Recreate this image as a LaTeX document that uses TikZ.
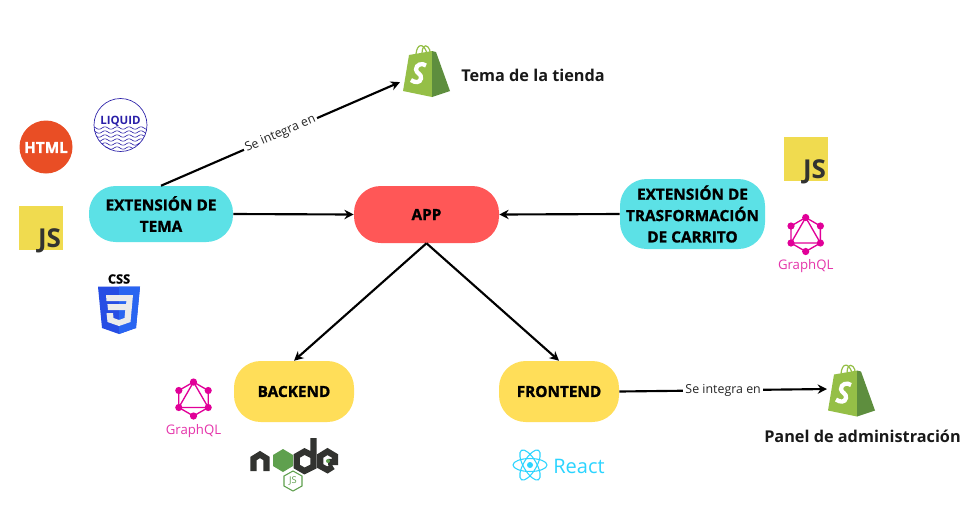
\documentclass[tikz,border=0pt]{standalone}
\usepackage{fontspec}
\setmainfont{Open Sans}
\newfontfamily\heavy[BoldFeatures={FakeBold=1.2}]{Open Sans}
\usetikzlibrary{arrows.meta,calc}
\definecolor{cyanbox}{HTML}{5CE1E6}
\definecolor{redbox}{HTML}{FF5757}
\definecolor{yellowbox}{HTML}{FFDE59}
\definecolor{shopl}{HTML}{95BF47}
\definecolor{shopd}{HTML}{5E8E3E}
\definecolor{gql}{HTML}{E10098}
\definecolor{gqltext}{HTML}{E535AB}
\definecolor{jsy}{HTML}{F0DB4F}
\definecolor{jsd}{HTML}{323330}
\definecolor{htmlc}{HTML}{E94E25}
\definecolor{liq}{HTML}{2A1FA8}
\definecolor{nodeg}{HTML}{5FA04E}
\definecolor{reactc}{HTML}{2BD4FF}
\definecolor{cssa}{HTML}{264DE4}
\definecolor{cssb}{HTML}{2965F1}
\tikzset{
  x=0.75pt,y=-0.75pt,
  boxnode/.style={rounded corners=20pt,align=center,inner sep=0pt,font=\heavy\bfseries\fontsize{11.5pt}{16pt}\selectfont,text=black},
  cyannode/.style={boxnode,fill=cyanbox},
  rednode/.style={boxnode,fill=redbox},
  yellownode/.style={boxnode,fill=yellowbox},
  conn/.style={line width=1.6pt,draw=black,-{Stealth[length=7pt,width=7pt]}},
  edgelabel/.style={fill=white,inner sep=1.5pt,font=\fontsize{9.3pt}{11pt}\selectfont,text=black!85},
  caption/.style={font=\bfseries\fontsize{12.2pt}{14pt}\selectfont,text=black!90,inner sep=0pt},
  iconbox/.style={inner sep=0pt,outer sep=0pt},
  shopify/.pic={
    \fill[shopl] (-23,21)--(-17,-15)--(6,-19)--(6,27)--cycle;
    \fill[shopd] (6,-19)--(10,-18)--(24,21)--(6,27)--cycle;
    \draw[shopl,line width=0.9pt] (-10,-16) .. controls (-9,-26) and (-3,-28) .. (1,-17);
    \draw[shopl,line width=0.9pt] (-4,-17) .. controls (-4,-23) and (-1,-26) .. (2,-23) .. controls (4,-21) and (4,-19) .. (4,-17);
    \draw[white,line width=3.2pt] (0,-4.5) .. controls (-4,-7.5) and (-10,-5.5) .. (-10,-0.5) .. controls (-10,3) and (-4,4) .. (-5,8.5) .. controls (-6,13) and (-11,13) .. (-15,10);
  },
  graphql/.pic={
    \draw[gql,line width=1pt] (0,-17)--(14.7,-8.5)--(14.7,8.5)--(0,17)--(-14.7,8.5)--(-14.7,-8.5)--cycle;
    \draw[gql,line width=1pt] (0,-17)--(14.7,8.5)--(-14.7,8.5)--cycle;
    \foreach \a/\b in {0/-17,14.7/-8.5,14.7/8.5,0/17,-14.7/8.5,-14.7/-8.5}{\fill[gql] (\a,\b) circle[radius=3.6];}
    \node[iconbox,text=gqltext,font=\fontsize{9.9pt}{11pt}\selectfont] at (0,32) {GraphQL};
  },
  jsbox/.pic={
    \fill[jsy] (-22,-22) rectangle (22,22);
    \node[iconbox,text=jsd,font=\bfseries\fontsize{19.5pt}{22pt}\selectfont,anchor=base east] at (20,19.5) {JS};
  },
}
\begin{document}
\begin{tikzpicture}
\useasboundingbox (0,0) rectangle (977,512);
\fill[white] (0,0) rectangle (977,512);

% main nodes
\node[cyannode,minimum width=108pt,minimum height=42pt] (theme) at (161,214) {EXTENSIÓN DE\\TEMA};
\node[rednode,minimum width=108.75pt,minimum height=42.75pt] (app) at (426.5,214.5) {APP};
\node[cyannode,minimum width=108.75pt,minimum height=52.5pt] (cart) at (692.5,214) {EXTENSIÓN DE\\TRASFORMACIÓN\\DE CARRITO};
\node[yellownode,minimum width=90pt,minimum height=45.75pt] (back) at (294,391.5) {BACKEND};
\node[yellownode,minimum width=90pt,minimum height=45.75pt] (front) at (559,391.5) {FRONTEND};

% icon holders
\node[iconbox,minimum width=39pt,minimum height=40.5pt] (shoptheme) at (426,70) {};
\node[iconbox,minimum width=36pt,minimum height=40.5pt] (shoppanel) at (851,389) {};
\pic at (426,70) {shopify};
\pic at (851,389.5) {shopify};
\node[caption,anchor=west] (temalabel) at (461,75) {Tema de la tienda};
\node[caption] (panellabel) at (862.5,436) {Panel de administración};

% connectors
\draw[conn] (theme.north) -- (shoptheme.205) node[midway,sloped,edgelabel] (lab1) {Se integra en};
\draw[conn] (theme.east) -- (app.west);
\draw[conn] (cart.west) -- (app.east);
\draw[conn] (app.south) -- (back.north);
\draw[conn] (app.south) -- (front.north);
\draw[conn] (front.east) -- (shoppanel.west) node[midway,edgelabel,inner ysep=1pt] (lab2) {Se integra en};

% HTML
\fill[htmlc] (46,147) circle[radius=26.5];
\node[iconbox,text=white,font=\heavy\bfseries\fontsize{11.5pt}{12pt}\selectfont] (htmlicon) at (46,147.5) {HTML};

% Liquid
\begin{scope}
  \clip (120.5,125) circle[radius=26.5];
  \foreach \yy in {128,132,136,140,144,148}{
    \draw[liq,line width=0.45pt] plot[domain=92:150,samples=60,smooth] (\x,{\yy+1.2*sin(\x*30)});
  }
\end{scope}
\draw[liq,line width=0.5pt] (120.5,125) circle[radius=26.5];
\node[iconbox,text=liq,font=\bfseries\fontsize{8.6pt}{9pt}\selectfont] (liquidicon) at (120.5,121.5) {LIQUID};

% JS
\pic at (41,227.5) {jsbox};
\pic at (806,159) {jsbox};

% CSS
\node[iconbox,text=black,font=\heavy\bfseries\fontsize{9.6pt}{10pt}\selectfont] (cssicon) at (119,279) {CSS};
\fill[cssa] (98,286.7)--(140,286.7)--(136,328)--(119,334)--(102,328)--cycle;
\fill[cssb] (119,286.7)--(140,286.7)--(136,328)--(119,334)--cycle;
\fill[white!92!black] (106,295)--(133,295)--(130.5,322)--(119,326)--(107.5,322)--(106.5,313)--(113,313)--(113.5,318)--(119,320)--(124.5,318)--(125.3,310)--(108,310)--(107.4,304)--(126,304)--(126.5,301)--(106.5,301)--cycle;

% GraphQL
\pic at (193.5,399) {graphql};
\pic at (805.7,234.5) {graphql};

% Node.js
\draw[jsd,line width=4.6pt,miter limit=10] (253.5,471)--(253.5,458.5)--(260,454.5)--(266.5,458.5)--(266.5,471);
\fill[nodeg] (283,449)--(293,455)--(293,466)--(283,472)--(273,466)--(273,455)--cycle;
\draw[jsd,line width=4.6pt] (313.5,438)--(313.5,466.5)--(304.5,471)--(296.7,466.5)--(296.7,456)--(304.5,451.5)--(313.5,456);
\draw[jsd,line width=4.6pt] (333,466.5)--(327.5,470)--(320.2,466)--(320.2,456)--(327.5,451.5)--(335,456)--(335,462)--(328,462);
\fill[nodeg] (328,461) circle[radius=2];
\draw[nodeg,line width=0.8pt] (293,471)--(302,476)--(302,486)--(293,491)--(284,486)--(284,476)--cycle;
\node[iconbox,text=nodeg,font=\fontsize{7pt}{8pt}\selectfont] (nodeicon) at (293,481) {JS};

% React
\fill[reactc] (530,465) circle[radius=3];
\foreach \r in {0,60,120}{\draw[reactc,line width=0.8pt,rotate around={\r:(530,465)}] (530,465) ellipse[x radius=17,y radius=6.5];}
\node[iconbox,text=reactc,font=\fontsize{15pt}{17pt}\selectfont] (reacticon) at (579,466) {React};
\end{tikzpicture}
\end{document}
